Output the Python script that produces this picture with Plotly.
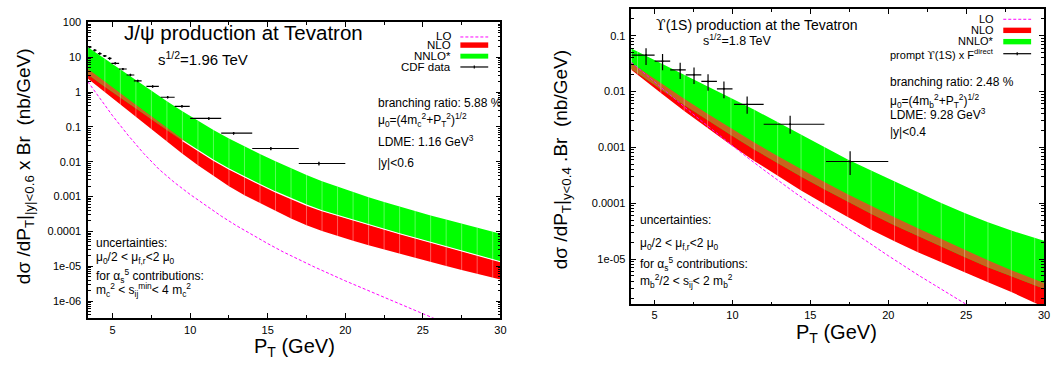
import numpy as np
import plotly.graph_objects as go

W, H = 1058, 365
FONT = "Liberation Sans, Arial, Helvetica, sans-serif"
UPS = "<span style='font-family:DejaVu Serif'>ϒ</span>"

# ------------------------------------------------------------------
# J/psi production at the Tevatron (left panel), values as log10(nb/GeV)
# ------------------------------------------------------------------
jpsi_pt = [3.4, 4.5, 5.5, 6.5, 7.5, 8.5, 9.5, 10.5, 11.5, 12.5, 13.5, 14.5, 15.5,
           16.5, 17.5, 18.5, 19.5, 20.5, 21.5, 22.5, 23.5, 24.5, 25.5, 26.5,
           27.5, 28.5, 29.5, 30.0]
jpsi_nnlo_hi = [1.29, 0.95, 0.645, 0.335, 0.03, -0.265, -0.55, -0.825, -1.09, -1.335,
                -1.56, -1.775, -1.985, -2.19, -2.38, -2.56, -2.72, -2.875, -3.02,
                -3.155, -3.29, -3.415, -3.54, -3.66, -3.78, -3.90, -4.01, -4.07]
jpsi_nnlo_lo = [0.51, 0.155, -0.155, -0.47, -0.785, -1.09, -1.39, -1.68, -1.955, -2.21,
                -2.44, -2.655, -2.865, -3.065, -3.245, -3.405, -3.54, -3.68, -3.81,
                -3.94, -4.065, -4.19, -4.315, -4.44, -4.565, -4.69, -4.81, -4.87]
jpsi_nlo_hi = [0.67, 0.295, -0.035, -0.365, -0.695, -1.025, -1.36, -1.68, -1.955, -2.21,
               -2.44, -2.655, -2.865, -3.065, -3.245, -3.405, -3.54, -3.68, -3.81,
               -3.94, -4.065, -4.19, -4.315, -4.44, -4.565, -4.69, -4.81, -4.87]
jpsi_nlo_lo = [0.39, -0.02, -0.37, -0.72, -1.07, -1.42, -1.77, -2.10, -2.41, -2.70,
               -2.96, -3.19, -3.41, -3.63, -3.82, -3.99, -4.135, -4.27, -4.40, -4.525,
               -4.645, -4.765, -4.88, -4.995, -5.11, -5.225, -5.33, -5.38]
jpsi_lo_pt = [3.4, 4, 5, 6, 7, 8, 9, 10, 11, 12, 13, 14, 15, 16, 17, 18, 20, 22, 24, 26]
jpsi_lo = [0.30, -0.08, -0.68, -1.24, -1.76, -2.22, -2.60, -2.94, -3.26, -3.56, -3.84,
           -4.10, -4.35, -4.59, -4.81, -5.02, -5.42, -5.80, -6.17, -6.55]

# CDF Run II prompt J/psi data (nb/GeV)
cdf_pt = [3.53, 3.85, 4.17, 4.49, 4.81, 5.17, 5.66, 6.15, 6.62, 7.58, 8.55, 9.47,
          11.2, 12.8, 15.2, 18.3]
cdf_val = [19.7, 15.9, 12.8, 10.9, 9.25, 6.7, 4.6, 3.1, 2.1, 1.45, 0.71, 0.39,
           0.175, 0.066, 0.024, 0.0089]
cdf_err = [1.5, 1.2, 1.0, 0.8, 0.7, 0.5, 0.35, 0.25, 0.17, 0.12, 0.06, 0.035,
           0.016, 0.006, 0.0025, 0.0011]
cdf_pt_minus = [0.12, 0.12, 0.12, 0.12, 0.12, 0.25, 0.25, 0.25, 0.25, 0.4, 0.45, 0.47,
                1.2, 0.8, 1.2, 1.3]
cdf_pt_plus = [0.12, 0.12, 0.12, 0.12, 0.12, 0.25, 0.25, 0.25, 0.25, 0.4, 0.45, 0.5,
               0.8, 1.2, 1.8, 1.7]

# ------------------------------------------------------------------
# Upsilon(1S) production at the Tevatron (right panel), log10(nb/GeV)
# ------------------------------------------------------------------
ups_pt = [3.5, 3.9, 5.4, 6.9, 8.4, 9.9, 11.4, 12.9, 14.4, 15.9, 17.4, 18.9, 20.4,
          21.9, 23.4, 24.9, 26.4, 27.9, 29.4, 30.0]
ups_nnlo_hi = [-1.23, -1.285, -1.485, -1.695, -1.905, -2.115, -2.325, -2.545, -2.77,
               -2.995, -3.215, -3.415, -3.61, -3.805, -3.995, -4.175, -4.34, -4.49,
               -4.62, -4.67]
ups_nnlo_lo = [-1.59, -1.666, -1.956, -2.241, -2.512, -2.778, -3.036, -3.284, -3.522,
               -3.75, -3.97, -4.186, -4.392, -4.587, -4.775, -4.963, -5.144, -5.309,
               -5.467, -5.53]
ups_nlo_hi = [-1.49, -1.566, -1.85, -2.127, -2.395, -2.658, -2.911, -3.154, -3.392,
              -3.62, -3.838, -4.051, -4.252, -4.447, -4.642, -4.835, -5.022, -5.198,
              -5.364, -5.43]
ups_nlo_lo = [-1.61, -1.698, -2.026, -2.349, -2.657, -2.955, -3.242, -3.512, -3.77,
              -4.015, -4.244, -4.476, -4.682, -4.877, -5.058, -5.238, -5.416, -5.589,
              -5.782, -5.86]
ups_lo_pt = [3.5, 4, 5, 6, 7, 8, 9, 10, 11, 12, 13, 14, 15, 16, 17, 18, 19, 20, 22, 24, 26]
ups_lo = [-1.476, -1.595, -1.83, -2.065, -2.295, -2.525, -2.75, -2.97, -3.19, -3.40,
          -3.61, -3.81, -4.00, -4.19, -4.37, -4.56, -4.75, -4.94, -5.30, -5.64, -5.98]

# prompt Upsilon(1S) x F^direct (nb/GeV)
ups_data_pt = [4.45, 5.51, 6.64, 7.53, 8.43, 9.45, 10.94, 13.7, 17.55]
ups_data_val = [0.045, 0.035, 0.0245, 0.020, 0.0152, 0.0112, 0.0059, 0.0026, 0.00056]
ups_data_hi = [0.060, 0.047, 0.033, 0.027, 0.0205, 0.0152, 0.0082, 0.0037, 0.00085]
ups_data_low = [0.030, 0.024, 0.0168, 0.0137, 0.0104, 0.0076, 0.0040, 0.00175, 0.00032]
ups_data_pt_minus = [0.95, 0.51, 0.64, 0.53, 0.43, 0.45, 0.84, 1.7, 1.55]
ups_data_pt_plus = [0.55, 0.49, 0.36, 0.47, 0.57, 0.55, 1.06, 2.2, 2.45]

# axis tick labels
jpsi_yticks = [100, 10, 1, 0.1, 0.01, 0.001, 0.0001, 1e-5, 1e-6]
jpsi_ytext = ["100", "10", "1", "0.1", "0.01", "0.001", "0.0001", "1e-05", "1e-06"]
ups_yticks = [0.1, 0.01, 0.001, 0.0001, 1e-5]
ups_ytext = ["0.1", "0.01", "0.001", "0.0001", "1e-05"]
pt_ticks = [5, 10, 15, 20, 25, 30]

GREEN = "#00ff00"
RED = "#ff0000"
BROWN = "#c8641e"
MAGENTA = "#ff00ff"

fig = go.Figure()


def add_panel(xa, ya, pt, g_hi, g_lo, r_hi, r_lo, lo_pt, lo, white_edge):
    pt = np.asarray(pt, float)
    g_hi, g_lo = 10 ** np.asarray(g_hi), 10 ** np.asarray(g_lo)
    r_hi, r_lo = 10 ** np.asarray(r_hi), 10 ** np.asarray(r_lo)
    common = dict(xaxis=xa, yaxis=ya, showlegend=False, hoverinfo="skip",
                  mode="lines", line=dict(width=0))
    # NLO band
    fig.add_trace(go.Scatter(x=np.r_[pt, pt[::-1]], y=np.r_[r_hi, r_lo[::-1]],
                             fill="toself", fillcolor=RED, **common))
    # NNLO* band
    fig.add_trace(go.Scatter(x=np.r_[pt, pt[::-1]], y=np.r_[g_hi, g_lo[::-1]],
                             fill="toself", fillcolor=GREEN, **common))
    # overlap of the two bands
    top = np.maximum(r_hi, g_lo)
    fig.add_trace(go.Scatter(x=np.r_[pt, pt[::-1]], y=np.r_[top, g_lo[::-1]],
                             fill="toself", fillcolor=BROWN, **common))
    # faint polygon seams at the sampled points
    sx, sy = [], []
    for i in range(1, len(pt) - 1):
        sx += [pt[i], pt[i], None]
        sy += [r_lo[i], g_hi[i], None]
    fig.add_trace(go.Scatter(x=sx, y=sy, xaxis=xa, yaxis=ya, mode="lines",
                             line=dict(color="rgba(255,255,255,0.35)", width=1),
                             showlegend=False, hoverinfo="skip"))
    if white_edge:
        m = r_hi <= g_lo * 1.0001
        idx = np.where(m)[0]
        if len(idx):
            k = max(idx[0] - 1, 0)
            fig.add_trace(go.Scatter(x=pt[k:], y=g_lo[k:], xaxis=xa, yaxis=ya,
                                     mode="lines",
                                     line=dict(color="white", width=1.1),
                                     showlegend=False, hoverinfo="skip"))
    # LO curve
    fig.add_trace(go.Scatter(x=lo_pt, y=10 ** np.asarray(lo), xaxis=xa, yaxis=ya,
                             mode="lines",
                             line=dict(color=MAGENTA, width=1, dash="3px,2px"),
                             showlegend=False, hoverinfo="skip"))


add_panel("x", "y", jpsi_pt, jpsi_nnlo_hi, jpsi_nnlo_lo, jpsi_nlo_hi, jpsi_nlo_lo,
          jpsi_lo_pt, jpsi_lo, True)
add_panel("x2", "y2", ups_pt, ups_nnlo_hi, ups_nnlo_lo, ups_nlo_hi, ups_nlo_lo,
          ups_lo_pt, ups_lo, False)

# measured points
fig.add_trace(go.Scatter(
    x=cdf_pt, y=cdf_val, xaxis="x", yaxis="y", mode="markers",
    marker=dict(size=2, color="black"),
    error_x=dict(type="data", symmetric=False, array=cdf_pt_plus,
                 arrayminus=cdf_pt_minus, color="black", thickness=1.2, width=0),
    error_y=dict(type="data", array=cdf_err, color="black", thickness=1.2, width=0),
    showlegend=False, hoverinfo="skip"))

uv = np.asarray(ups_data_val)
fig.add_trace(go.Scatter(
    x=ups_data_pt, y=ups_data_val, xaxis="x2", yaxis="y2", mode="markers",
    marker=dict(size=2, color="black"),
    error_x=dict(type="data", symmetric=False, array=ups_data_pt_plus,
                 arrayminus=ups_data_pt_minus, color="black", thickness=1.2, width=0),
    error_y=dict(type="data", symmetric=False, array=np.asarray(ups_data_hi) - uv,
                 arrayminus=uv - np.asarray(ups_data_low), color="black",
                 thickness=1.2, width=0),
    showlegend=False, hoverinfo="skip"))


def minor_log(lo_dec, hi_dec):
    return [m * 10.0 ** d for d in range(lo_dec, hi_dec + 1) for m in range(2, 10)]


axis_common = dict(showline=True, linecolor="black", linewidth=1.5, mirror="ticks",
                   ticks="inside", ticklen=5, tickwidth=1, tickcolor="black",
                   showgrid=False, zeroline=False,
                   tickfont=dict(family=FONT, size=11, color="black"))
minor_x = dict(tickmode="array", tickvals=[7.5, 12.5, 17.5, 22.5, 27.5],
               ticks="inside", ticklen=3, tickcolor="black")

fig.update_layout(
    width=W, height=H, margin=dict(l=0, r=0, t=0, b=0),
    paper_bgcolor="white", plot_bgcolor="white",
    xaxis=dict(domain=[88.6 / W, 503.3 / W], range=[3.42, 30], anchor="y",
               tickmode="array", tickvals=pt_ticks, ticklabelstandoff=1,
               minor=minor_x, **axis_common),
    yaxis=dict(domain=[1 - 317 / H, 1 - 16.7 / H], type="log", range=[-6.48, 2.0],
               anchor="x", tickmode="array", tickvals=jpsi_yticks, ticktext=jpsi_ytext,
               ticklabelstandoff=3,
               minor=dict(tickmode="array", tickvals=minor_log(-7, 1),
                          ticks="inside", ticklen=3, tickcolor="black"),
               **axis_common),
    xaxis2=dict(domain=[635 / W, 1050 / W], range=[3.51, 30], anchor="y2",
                tickmode="array", tickvals=pt_ticks, ticklabelstandoff=0,
                minor=minor_x, **axis_common),
    yaxis2=dict(domain=[1 - 303.3 / H, 1 - 3 / H], type="log", range=[-5.81, -0.52],
                anchor="x2", tickmode="array", tickvals=ups_yticks, ticktext=ups_ytext,
                ticklabelstandoff=2,
                minor=dict(tickmode="array", tickvals=minor_log(-6, -1),
                           ticks="inside", ticklen=3, tickcolor="black"),
                **axis_common),
)


def px(X):
    return X / W


def py(Y):
    return 1 - Y / H


annotations = []


def text(X, Y, s, size=12, xanchor="left", yanchor="middle", angle=0):
    annotations.append(dict(x=px(X), y=py(Y), xref="paper", yref="paper", text=s,
                            showarrow=False, xanchor=xanchor, yanchor=yanchor,
                            textangle=angle,
                            font=dict(family=FONT, size=size, color="black")))


shapes = []


def hline(X0, X1, Y, color, width=1, dash=None):
    shapes.append(dict(type="line", xref="paper", yref="paper", x0=px(X0), x1=px(X1),
                       y0=py(Y), y1=py(Y),
                       line=dict(color=color, width=width, dash=dash)))


def box(X0, X1, Y0, Y1, color):
    shapes.append(dict(type="rect", xref="paper", yref="paper", x0=px(X0), x1=px(X1),
                       y0=py(Y1), y1=py(Y0), fillcolor=color, line=dict(width=0)))


# ---- left panel text ----
text(244.5, 27, "J/ψ production at Tevatron", size=20.5, xanchor="center")
text(157, 53, "s<sup>1/2</sup>=1.96 TeV", size=15)
for Y, s in [(30, "LO"), (40, "NLO"), (51, "NNLO*"), (62, "CDF data")]:
    text(456, Y, s, size=11.5, xanchor="right")
hline(463, 491, 31.5, MAGENTA, 1, "3px,2px")
box(463, 491, 37, 42.5, RED)
box(463, 491, 48.5, 53.5, GREEN)
hline(463, 491, 62, "black", 1.2)
shapes.append(dict(type="line", xref="paper", yref="paper", x0=px(477), x1=px(477),
                   y0=py(60.5), y1=py(63.5), line=dict(color="black", width=1.2)))

text(378, 99, "branching ratio: 5.88 %")
text(378, 116, "μ<sub>0</sub>=(4m<sub>c</sub><sup>2</sup>+P<sub>T</sub><sup>2</sup>)<sup>1/2</sup>")
text(378, 137, "LDME: 1.16 GeV<sup>3</sup>")
text(378, 160, "|y|&lt;0.6")
text(95, 241, "uncertainties:")
text(95, 256, "μ<sub>0</sub>/2 &lt; μ<sub>f,r</sub>&lt;2 μ<sub>0</sub>")
text(95, 275, "for α<sub>s</sub><sup>5</sup> contributions:")
text(95, 289, "m<sub>c</sub><sup>2</sup> &lt; s<sub>ij</sub><sup>min</sup>&lt; 4 m<sub>c</sub><sup>2</sup>")
text(25, 163, "dσ /dP<sub>T</sub>|<sub>|y|&lt;0.6</sub> x Br \u00a0(nb/GeV)", size=19,
     xanchor="center", angle=-90)
text(296, 347, "P<sub>T</sub> (GeV)", size=20, xanchor="center")

# ---- right panel text ----
text(761, 19, UPS + "(1S) production at the Tevatron", size=14, xanchor="center")
text(705, 35, "s<sup>1/2</sup>=1.8 TeV", size=12.5)
for Y, s in [(13, "LO"), (24.5, "NLO"), (35.5, "NNLO*"),
             (49, "prompt " + UPS + "(1S) x F<sup>direct</sup>")]:
    text(1002, Y, s, size=11, xanchor="right")
hline(1009, 1037, 13.5, MAGENTA, 1, "3px,2px")
box(1009, 1037, 22, 27.5, RED)
box(1009, 1037, 33.5, 39, GREEN)
hline(1009, 1037, 48.5, "black", 1.2)
shapes.append(dict(type="line", xref="paper", yref="paper", x0=px(1023), x1=px(1023),
                   y0=py(47), y1=py(50), line=dict(color="black", width=1.2)))

text(893, 77, "branching ratio: 2.48 %")
text(893, 97, "μ<sub>0</sub>=(4m<sub>b</sub><sup>2</sup>+P<sub>T</sub><sup>2</sup>)<sup>1/2</sup>")
text(893, 110, "LDME: 9.28 GeV<sup>3</sup>")
text(893, 128, "|y|&lt;0.4")
text(642, 218, "uncertainties:")
text(642, 242, "μ<sub>0</sub>/2 &lt; μ<sub>f,r</sub>&lt;2 μ<sub>0</sub>")
text(642, 262, "for α<sub>s</sub><sup>5</sup> contributions:")
text(642, 280, "m<sub>b</sub><sup>2</sup>/2 &lt; s<sub>ij</sub>&lt; 2 m<sub>b</sub><sup>2</sup>")
text(566, 156, "dσ /dP<sub>T</sub>|<sub>y&lt;0.4</sub> .Br \u00a0(nb/GeV)", size=19,
     xanchor="center", angle=-90)
text(841, 333, "P<sub>T</sub> (GeV)", size=20, xanchor="center")

fig.update_layout(annotations=annotations, shapes=shapes)
fig.write_html("out.html")
